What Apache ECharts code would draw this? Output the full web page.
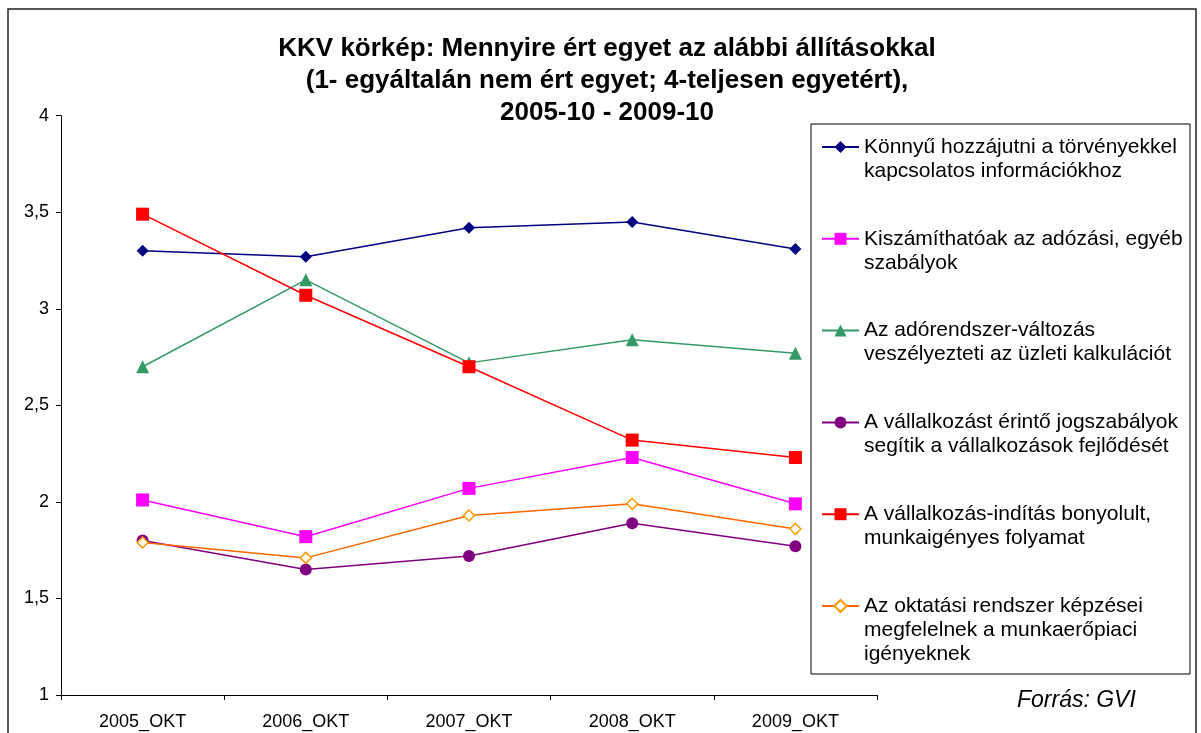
<!DOCTYPE html>
<html>
<head>
<meta charset="utf-8">
<script src="https://cdn.jsdelivr.net/npm/echarts@6/dist/echarts.min.js"></script>
<style>
  html, body { margin: 0; padding: 0; background: #fff; }
  #chart { width: 1201px; height: 733px; }
</style>
</head>
<body>
<div id="chart"></div>
<script>
// categories and series values
const years = ['2005_OKT', '2006_OKT', '2007_OKT', '2008_OKT', '2009_OKT']
const yTicks = [1, 1.5, 2, 2.5, 3, 3.5, 4]

const konnyu = [3.30, 3.27, 3.42, 3.45, 3.31]
const kiszamithato = [2.01, 1.82, 2.07, 2.23, 1.99]
const adorendszer = [2.70, 3.15, 2.72, 2.84, 2.77]
const jogszabalyok = [1.80, 1.65, 1.72, 1.89, 1.77]
const inditas = [3.49, 3.07, 2.70, 2.32, 2.23]
const oktatas = [1.79, 1.71, 1.93, 1.99, 1.86]

const names = [
  'Könnyű hozzájutni a törvényekkel\nkapcsolatos információkhoz',
  'Kiszámíthatóak az adózási, egyéb\nszabályok',
  'Az adórendszer-változás\nveszélyezteti az üzleti kalkulációt',
  'A vállalkozást érintő jogszabályok\nsegítik a vállalkozások fejlődését',
  'A vállalkozás-indítás bonyolult,\nmunkaigényes folyamat',
  'Az oktatási rendszer képzései\nmegfelelnek a munkaerőpiaci\nigényeknek'
]

const FONT = '"Liberation Sans", Arial, sans-serif'
const LH = 24

function lineSeries(name, data, color, symbol, size, fill, border) {
  return {
    type: 'line',
    name: name,
    data: data,
    symbol: symbol,
    symbolSize: size,
    lineStyle: { color: color, width: 1.5 },
    itemStyle: {
      color: fill || color,
      borderColor: border || fill || color,
      borderWidth: border ? 1.5 : 0
    },
    emphasis: { disabled: true },
    z: 2
  }
}

const series = [
  lineSeries(names[0], konnyu, '#000080', 'diamond', 12),
  lineSeries(names[1], kiszamithato, '#FF00FF', 'rect', 13),
  lineSeries(names[2], adorendszer, '#339966', 'triangle', 13),
  lineSeries(names[3], jogszabalyok, '#800080', 'circle', 12),
  lineSeries(names[4], inditas, '#FF0000', 'rect', 13),
  lineSeries(names[5], oktatas, '#FF6600', 'diamond', 11, '#ffffff', '#FF9900')
]

// one legend per entry; blank lines above the text put the marker
// beside the first line instead of the middle of the block
const legends = names.map((name, i) => {
  const n = name.split('\n').length
  const firstLine = 147 + i * 91.8
  return {
    data: [name],
    orient: 'vertical',
    left: 821,
    top: firstLine - (2 * n - 1) * LH / 2,
    padding: 0,
    itemWidth: 37,
    itemHeight: 15,
    itemGap: 0,
    selectedMode: false,
    z: 10,
    formatter: label => '\n'.repeat(n - 1) + label,
    textStyle: {
      fontFamily: FONT,
      fontSize: 21,
      lineHeight: LH,
      color: '#000'
    }
  }
})

const chart = echarts.init(document.getElementById('chart'), null, { renderer: 'canvas' })

chart.setOption({
  animation: false,
  backgroundColor: '#ffffff',
  title: [{
    text: 'KKV körkép: Mennyire ért egyet az alábbi állításokkal\n(1- egyáltalán nem ért egyet; 4-teljesen egyetért),\n2005-10 - 2009-10',
    left: 607,
    textAlign: 'center',
    top: 33,
    padding: 0,
    textStyle: {
      fontFamily: FONT,
      fontWeight: 'bold',
      fontSize: 26,
      lineHeight: 32,
      color: '#000'
    }
  }, {
    text: 'Forrás: GVI',
    left: 1017,
    top: 689,
    padding: 0,
    textStyle: {
      fontFamily: FONT,
      fontStyle: 'italic',
      fontWeight: 'normal',
      fontSize: 23,
      color: '#000'
    }
  }],
  graphic: [{
    type: 'rect',
    shape: { x: 8, y: 9, width: 1188, height: 740 },
    style: { fill: null, stroke: '#222', lineWidth: 1.5 },
    silent: true,
    z: 0
  }, {
    type: 'rect',
    shape: { x: 811, y: 124, width: 379, height: 550 },
    style: { fill: '#ffffff', stroke: '#000', lineWidth: 1 },
    silent: true,
    z: 5
  }],
  legend: legends,
  grid: { left: 61, right: 324, top: 115.7, bottom: 38, containLabel: false },
  xAxis: {
    type: 'category',
    data: years,
    boundaryGap: true,
    axisLine: { lineStyle: { color: '#000', width: 1 } },
    axisTick: { show: true, length: 5, lineStyle: { color: '#000' } },
    axisLabel: { fontFamily: FONT, fontSize: 18, color: '#000', margin: 18 },
    splitLine: { show: false }
  },
  yAxis: {
    type: 'value',
    min: yTicks[0],
    max: yTicks[yTicks.length - 1],
    interval: 0.5,
    axisLine: { show: true, lineStyle: { color: '#000', width: 1 } },
    axisTick: { show: true, length: 5, lineStyle: { color: '#000' } },
    axisLabel: {
      fontFamily: FONT,
      fontSize: 18,
      color: '#000',
      margin: 12,
      formatter: v => String(v).replace('.', ',')
    },
    splitLine: { show: false }
  },
  series: series
})
</script>
</body>
</html>
